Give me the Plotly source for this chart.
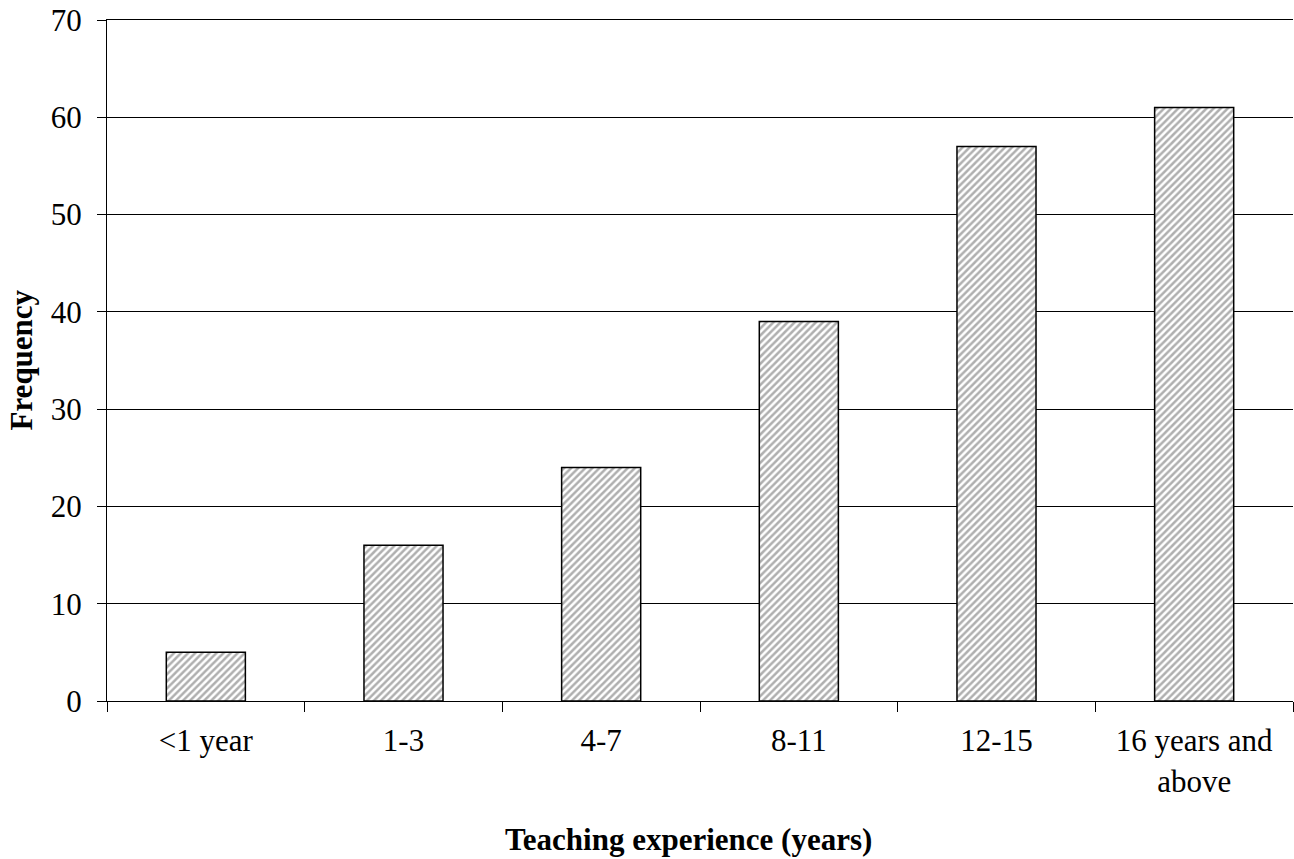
import plotly.graph_objects as go

categories = ["<1 year", "1-3", "4-7", "8-11", "12-15", "16 years and<br>above"]
frequency = [5, 16, 24, 39, 57, 61]
y_ticks = [0, 10, 20, 30, 40, 50, 60, 70]

fig = go.Figure()
fig.add_trace(go.Bar(
    x=categories,
    y=frequency,
    width=0.4,
    marker=dict(
        color="white",
        line=dict(color="black", width=1.5),
        pattern=dict(shape="/", fgcolor="#606060", bgcolor="white", size=5, solidity=0.5),
    ),
))

font_family = "Liberation Serif, Times New Roman, serif"
fig.update_layout(
    width=1294, height=859,
    margin=dict(l=107, r=1, t=20, b=158, autoexpand=False),
    plot_bgcolor="white", paper_bgcolor="white",
    showlegend=False,
    font=dict(family=font_family, size=31, color="black"),
)
fig.update_xaxes(
    type="category", automargin=False,
    showline=True, linecolor="black", linewidth=1, mirror=True,
    ticks="outside", tickson="boundaries", ticklen=10, tickcolor="black",
    tickfont=dict(size=31, family=font_family),
    ticklabelstandoff=12,
    showgrid=False,
)
fig.update_yaxes(
    range=[0, 70], tickvals=y_ticks, automargin=False,
    showline=True, linecolor="black", linewidth=1,
    ticks="outside", ticklen=9, tickcolor="black",
    showgrid=True, gridcolor="black", gridwidth=1,
    tickfont=dict(size=31, family=font_family),
    ticklabelstandoff=9, ticklabeloverflow="allow",
    zeroline=False,
)
fig.add_annotation(
    text="<b>Teaching experience (years)</b>", xref="paper", yref="paper",
    x=0.49, y=-0.2315, xanchor="center", yanchor="bottom", showarrow=False,
    font=dict(size=31, family=font_family),
)
fig.add_annotation(
    text="<b>Frequency</b>", xref="paper", yref="paper",
    x=-0.0725, y=0.5, xanchor="center", yanchor="middle", showarrow=False,
    textangle=-90, font=dict(size=31, family=font_family),
)

fig.write_html("out.html", config={"displayModeBar": False},
               post_script="document.body.style.margin='0';")
